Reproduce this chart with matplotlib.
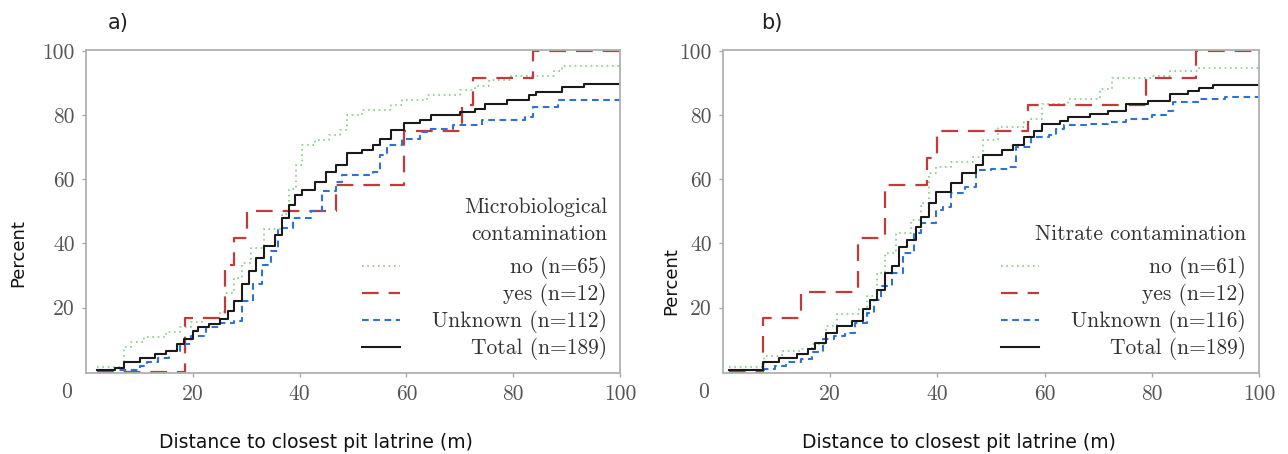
import matplotlib
matplotlib.use("Agg")
import matplotlib.pyplot as plt

# ---- data (step points: distance m, cumulative %) ----
a_no_x = [2.0, 7.1, 8.4, 10.8, 14.9, 17.6, 19.7, 21.7, 25.1, 26.1, 27.8, 29.2, 30.9, 33.3, 36.7, 38.1,
          39.4, 40.4, 42.8, 45.5, 47.6, 48.9, 51.7, 57.1, 59.2, 63.9, 70.0, 72.8, 75.5, 79.6, 87.7, 89.1, 100]
a_no_y = [1.5, 7.7, 9.2, 10.8, 12.3, 13.8, 15.4, 16.9, 18.5, 24.6, 29.2, 33.8, 38.5, 44.6, 49.2, 56.9,
          64.6, 70.8, 72.3, 73.8, 75.4, 80.0, 81.5, 83.1, 84.6, 86.2, 87.7, 89.2, 90.8, 92.3, 93.8, 95.4, 95.4]

a_yes_x = [2.0, 18.6, 26.1, 27.8, 30.2, 46.9, 59.5, 70.4, 72.4, 83.7, 100]
a_yes_y = [0, 16.7, 33.3, 41.7, 50.0, 58.3, 75.0, 83.3, 91.7, 100, 100]

a_unk_x = [2.0, 10.1, 11.5, 13.5, 15.6, 17.6, 19.7, 22.4, 25.1, 27.8, 29.2, 31.2, 32.9, 34.6, 36.0, 38.7,
           42.1, 44.2, 46.9, 47.9, 53.7, 55.1, 56.4, 59.2, 62.6, 63.9, 68.7, 74.1, 82.3, 83.7, 88.4, 100]
a_unk_y = [0.5, 1.9, 2.9, 4.4, 6.5, 8.6, 11.2, 13.8, 15.3, 15.8, 22.0, 27.2, 33.4, 37.6, 44.8, 47.9,
           50.0, 56.2, 59.3, 61.4, 62.4, 67.6, 70.7, 72.7, 74.8, 75.8, 76.9, 78.4, 79.5, 82.6, 84.6, 84.6]

a_tot_x = [2.0, 5.4, 7.1, 10.1, 12.9, 14.9, 17.0, 18.3, 20.0, 21.0, 23.1, 25.1, 26.5, 27.8, 29.2, 30.6,
           31.9, 33.3, 35.3, 36.7, 38.1, 39.1, 40.4, 42.8, 44.9, 46.9, 48.9, 51.7, 53.7, 55.1, 57.1, 59.5,
           62.6, 64.6, 70.0, 72.8, 74.8, 78.9, 83.0, 84.3, 89.1, 93.2, 100]
a_tot_y = [0.5, 1.1, 2.9, 4.4, 5.5, 6.5, 8.6, 10.1, 12.7, 14.0, 14.8, 16.3, 18.9, 22.0, 27.2, 31.3,
           35.5, 39.1, 42.7, 47.9, 52.0, 55.1, 56.7, 59.3, 62.4, 64.5, 68.1, 69.1, 70.7, 72.7, 75.3, 77.4,
           78.4, 80.0, 81.0, 82.0, 83.6, 84.6, 86.2, 87.2, 88.8, 89.6, 89.6]

b_no_x = [1.2, 7.7, 11.1, 14.5, 16.6, 19.3, 21.3, 25.4, 26.8, 28.8, 30.2, 32.2, 35.0, 37.0, 38.4, 39.7,
          42.5, 46.6, 48.6, 51.3, 56.1, 57.5, 59.5, 64.3, 70.4, 72.5, 80.0, 83.4, 88.8, 100]
b_no_y = [1.6, 5.0, 6.5, 7.0, 8.6, 14.3, 17.9, 19.4, 23.6, 30.8, 37.0, 43.2, 47.3, 52.5, 61.8, 63.8,
          65.4, 66.9, 72.1, 76.2, 77.8, 78.8, 83.5, 85.0, 88.1, 91.7, 92.3, 93.8, 94.8, 94.8]

b_yes_x = [1.2, 7.4, 14.5, 25.1, 30.2, 38.0, 39.9, 56.9, 78.9, 88.3, 100]
b_yes_y = [0, 16.7, 25.0, 41.7, 58.3, 66.7, 75.0, 83.3, 91.7, 100, 100]

b_unk_x = [1.2, 7.7, 9.7, 11.8, 14.5, 16.6, 18.6, 20.7, 22.7, 24.7, 26.8, 28.2, 29.5, 31.6, 33.6, 35.7,
           37.0, 39.7, 41.1, 42.5, 45.2, 47.2, 50.0, 53.4, 54.7, 57.5, 60.9, 62.2, 63.6, 68.4, 71.8, 75.2,
           80.0, 82.7, 84.0, 88.8, 93.6, 100]
b_unk_y = [0.4, 0.8, 1.9, 2.9, 3.9, 6.0, 10.1, 11.2, 12.2, 15.3, 18.4, 22.5, 26.7, 30.8, 37.0, 43.2,
           46.3, 50.4, 51.4, 55.6, 57.6, 62.8, 63.3, 63.8, 70.0, 73.1, 73.7, 75.7, 76.8, 77.3, 77.8, 78.8,
           79.9, 81.4, 84.0, 85.0, 85.5, 85.5]

b_tot_x = [1.2, 7.4, 10.4, 13.8, 15.9, 17.2, 19.3, 21.3, 24.1, 26.1, 27.5, 28.8, 30.2, 31.6, 32.9, 34.3,
           36.0, 37.0, 38.4, 39.7, 42.5, 44.5, 47.2, 48.6, 52.0, 54.1, 56.1, 58.1, 59.5, 62.9, 64.3, 68.4,
           71.8, 75.2, 79.3, 83.4, 86.8, 88.8, 91.5, 100]
b_tot_y = [0.5, 2.9, 4.4, 5.5, 7.0, 9.1, 12.2, 14.3, 15.8, 19.4, 22.5, 25.6, 30.8, 32.9, 39.0, 41.1,
           45.2, 48.3, 52.5, 56.1, 58.7, 61.8, 64.4, 67.5, 69.0, 70.6, 73.1, 75.2, 77.3, 78.3, 79.5, 80.2,
           81.4, 83.5, 84.5, 86.6, 87.6, 88.6, 89.5, 89.5]

a_labels = ["no (n=65)", "yes (n=12)", "Unknown (n=112)", "Total (n=189)"]
b_labels = ["no (n=61)", "yes (n=12)", "Unknown (n=116)", "Total (n=189)"]
a_title = "Microbiological\ncontamination"
b_title = "Nitrate contamination"
ticks = [20, 40, 60, 80, 100]
tick_labels = ["20", "40", "60", "80", "100"]

# styles: no, yes, unknown, total
styles = [
    dict(color="#7fcf7f", lw=1.2, dashes=(1, 2.2)),
    dict(color="#c23b3b", lw=1.6, dashes=(7.5, 4.5)),
    dict(color="#2f72d6", lw=1.5, dashes=(3.2, 2.2)),
    dict(color="#1a1a1a", lw=1.5),
]

SERIF = ["cmr10", "DejaVu Serif"]
FS = 15.5

fig = plt.figure(figsize=(12.88, 4.54), dpi=100)
ax1 = fig.add_axes([86 / 1288, 1 - 373 / 454, 534 / 1288, 323 / 454])
ax2 = fig.add_axes([723 / 1288, 1 - 373 / 454, 536 / 1288, 323 / 454])

panels = [
    (ax1, [(a_no_x, a_no_y), (a_yes_x, a_yes_y), (a_unk_x, a_unk_y), (a_tot_x, a_tot_y)], a_labels, a_title, "a)", 118, (-0.11, 0.37), 0.43),
    (ax2, [(b_no_x, b_no_y), (b_yes_x, b_yes_y), (b_unk_x, b_unk_y), (b_tot_x, b_tot_y)], b_labels, b_title, "b)", 772, (-0.08, 0.285), 0.44),
]

for ax, series, labels, title, letter, lx, ylab_pos, xlab_x in panels:
    lines = []
    for (xs, ys), st, lab in zip(series, styles, labels):
        ln, = ax.step(xs, ys, where="post", label=lab, **st)
        lines.append(ln)
    ax.set_xlim(0, 100)
    ax.set_ylim(-0.4, 100.3)
    ax.set_xticks(ticks)
    ax.set_xticklabels(tick_labels, family=SERIF, fontsize=FS, color="#555555")
    ax.set_yticks(ticks)
    ax.set_yticklabels(tick_labels, family=SERIF, fontsize=FS, color="#555555")
    ax.tick_params(length=3, width=1, color="#aaaaaa", pad=5)
    for sp in ax.spines.values():
        sp.set_color("#b0b0b0")
        sp.set_linewidth(1.3)
    # shared origin label
    ax.annotate("0", xy=(0, 0), xytext=(-14, -15), textcoords="offset points",
                ha="center", va="center", family=SERIF, fontsize=FS, color="#555555",
                annotation_clip=False)
    ax.set_ylabel("Percent", fontsize=13, family="DejaVu Sans", color="#111111")
    ax.yaxis.set_label_coords(*ylab_pos)
    ax.set_xlabel("Distance to closest pit latrine (m)", fontsize=13.5, family="DejaVu Sans", color="#111111")
    ax.xaxis.set_label_coords(xlab_x, -0.185)

    leg = ax.legend(lines, labels, title=title, loc="lower right", frameon=False,
                    alignment="right", prop=dict(family=SERIF, size=FS),
                    title_fontproperties=dict(family=SERIF, size=FS),
                    handlelength=1.75, handletextpad=1.5, labelspacing=0.18,
                    borderpad=0, borderaxespad=0.6)
    leg._legend_box.sep = 9
    leg.get_title().set_multialignment("right")
    leg.get_title().set_linespacing(1.45)
    leg.get_title().set_color("#333333")
    for t in leg.get_texts():
        t.set_color("#333333")
    fig.text(lx / 1288, 1 - 23 / 454, letter, fontsize=15, family="DejaVu Sans",
             color="#222222", ha="center", va="center")

# right-align legend labels against the widest one
fig.canvas.draw()
r = fig.canvas.get_renderer()
for ax in (ax1, ax2):
    leg = ax.get_legend()
    widths = [t.get_window_extent(r).width for t in leg.get_texts()]
    w_max = max(widths)
    for t, w in zip(leg.get_texts(), widths):
        t.set_position((w_max - w, 0))

fig.savefig("out.png", dpi=100)
